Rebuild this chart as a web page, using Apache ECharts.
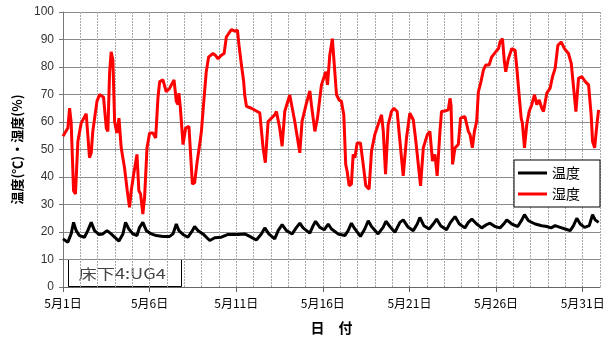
<!DOCTYPE html>
<html>
<head>
<meta charset="utf-8">
<script src="https://cdn.jsdelivr.net/npm/echarts@6/dist/echarts.min.js"></script>
<style>
html,body{margin:0;padding:0;background:#fff;}
#chart{width:613px;height:340px;}
</style>
</head>
<body>
<div id="chart"></div>
<script>
// x values: day of May (1.0 = 5月1日 00:00)
const xTickLabels = ['5月1日','5月6日','5月11日','5月16日','5月21日','5月26日','5月31日'];
const seriesNames = ['温度','湿度'];
const panelLabel = '床下4:UG4';

const tempDay = [1.0,1.28,1.47,1.61,1.76,1.95,2.24,2.43,2.63,2.82,3.07,3.30,3.54,3.78,3.98,4.23,4.46,4.61,4.80,5.04,5.27,5.42,5.61,5.81,6.10,6.38,6.77,7.16,7.35,7.54,7.69,7.93,8.21,8.47,8.60,8.79,9.08,9.47,9.76,10.14,10.53,11.10,11.49,11.78,12.16,12.45,12.65,12.88,13.22,13.42,13.65,13.90,14.23,14.48,14.67,14.86,15.25,15.44,15.58,15.83,16.08,16.31,16.50,16.59,16.88,17.27,17.46,17.65,17.85,18.17,18.42,18.62,18.81,19.19,19.48,19.64,19.87,20.16,20.45,20.64,20.93,21.22,21.45,21.60,21.83,22.14,22.37,22.57,22.80,23.14,23.37,23.63,23.88,24.20,24.40,24.60,24.88,25.17,25.46,25.65,25.94,26.23,26.48,26.62,26.91,27.25,27.49,27.64,27.87,28.26,28.64,28.93,29.18,29.41,29.70,29.99,30.28,30.47,30.66,30.86,31.11,31.38,31.57,31.72,31.92];
const tempVal = [17.5,16.3,19.3,23.5,20.5,18.7,18.1,20.5,23.5,20.5,19.1,19.3,20.5,19.3,18.1,16.7,19.3,23.5,21.1,19.3,18.7,21.7,23.5,20.5,19.3,18.7,18.4,18.4,19.3,22.9,20.5,19.1,18.1,20.5,22.0,20.5,19.3,16.9,17.9,18.1,19.1,19.1,19.3,18.4,17.1,19.3,21.5,19.3,17.5,20.5,22.7,20.5,19.3,21.7,23.2,21.5,19.6,22.3,23.9,21.7,20.8,22.9,21.1,20.5,19.3,18.7,20.5,23.2,21.1,18.4,21.1,24.1,22.0,19.3,21.7,23.9,22.0,19.9,23.5,24.4,21.7,20.5,22.9,25.3,22.3,21.1,22.9,24.7,22.3,20.8,23.5,25.6,22.9,21.5,23.5,24.7,22.9,21.5,22.7,23.2,22.0,21.5,23.2,24.4,22.9,22.0,24.4,26.3,24.1,22.9,22.3,22.0,21.5,22.3,21.7,21.1,20.5,22.3,25.0,22.9,21.7,22.3,26.3,24.4,23.5];

const humDay = [1.0,1.28,1.38,1.47,1.61,1.72,1.86,2.05,2.34,2.53,2.63,2.72,2.96,3.11,3.34,3.50,3.59,3.69,3.78,3.88,3.98,4.11,4.23,4.36,4.55,4.71,4.84,4.94,5.08,5.27,5.38,5.48,5.61,5.71,5.85,6.00,6.19,6.35,6.48,6.58,6.77,6.96,7.16,7.41,7.54,7.64,7.69,7.77,7.93,8.08,8.27,8.47,8.60,8.75,8.89,8.99,9.08,9.27,9.41,9.66,9.79,9.95,10.14,10.30,10.43,10.72,10.95,11.07,11.16,11.30,11.43,11.49,11.59,11.88,12.16,12.36,12.55,12.68,12.84,13.22,13.32,13.51,13.65,13.80,14.09,14.19,14.38,14.67,14.80,15.05,15.25,15.34,15.54,15.69,15.92,16.17,16.27,16.40,16.55,16.60,16.69,16.79,16.94,17.07,17.21,17.32,17.40,17.52,17.65,17.75,17.85,17.98,18.17,18.33,18.48,18.67,18.81,19.00,19.19,19.39,19.49,19.62,19.77,19.96,20.10,20.29,20.45,20.64,20.83,21.02,21.22,21.37,21.51,21.64,21.80,22.03,22.18,22.33,22.47,22.60,22.76,22.85,23.05,23.24,23.34,23.40,23.49,23.63,23.82,23.95,24.20,24.30,24.40,24.50,24.63,24.75,24.88,24.98,25.13,25.27,25.40,25.60,25.75,25.98,26.14,26.23,26.37,26.48,26.56,26.71,26.91,27.10,27.20,27.33,27.45,27.52,27.64,27.77,27.91,28.06,28.22,28.35,28.49,28.64,28.74,28.93,29.12,29.26,29.41,29.57,29.76,29.95,30.18,30.34,30.47,30.61,30.68,30.76,30.95,31.15,31.34,31.49,31.57,31.69,31.82,31.92];
const humVal = [54.8,57.8,65.0,60.0,35.0,33.8,53.0,59.6,63.0,47.0,48.8,56.6,67.5,70.0,69.0,57.8,56.6,78.0,85.5,82.5,60.0,56.0,61.4,50.6,43.4,35.0,29.0,35.0,41.0,48.2,35.0,33.8,26.5,32.6,50.6,56.0,56.0,54.2,68.7,74.7,75.3,71.0,72.3,75.3,67.5,66.3,70.5,65.6,51.8,57.8,58.4,37.4,38.0,45.8,51.8,56.6,63.8,78.3,83.7,84.9,84.3,83.0,84.3,84.9,90.9,93.6,93.0,93.4,87.9,80.7,74.7,69.8,65.7,65.0,64.0,63.3,50.6,45.2,60.2,62.6,63.8,57.8,51.2,63.8,69.8,69.2,60.2,48.8,60.2,66.8,71.3,66.3,56.6,61.4,73.5,78.3,73.5,84.3,90.3,90.9,78.3,69.9,68.0,67.5,62.6,44.6,42.2,36.8,37.4,48.2,47.0,52.4,52.4,44.6,36.8,35.6,49.4,55.4,59.0,62.6,56.6,41.0,59.0,63.8,65.0,63.8,53.0,40.4,54.2,63.2,60.8,53.0,44.6,36.8,50.6,55.4,56.6,45.8,48.2,40.4,56.6,63.8,64.0,64.4,68.6,66.3,44.6,50.6,51.8,61.4,62.0,61.4,56.6,55.4,50.6,56.6,60.2,71.0,74.7,78.9,80.7,80.7,83.7,85.5,86.7,89.1,90.3,81.9,78.3,83.0,86.7,86.1,79.5,69.9,61.4,59.6,50.6,59.0,63.8,66.3,69.9,66.3,68.0,65.0,63.8,70.5,72.3,76.5,79.5,87.9,89.1,86.7,84.9,81.3,72.9,63.8,63.2,75.9,76.5,74.7,73.5,62.6,53.0,50.6,59.0,64.4];

const toPairs = (days, vals) => days.map((d, i) => [d - 1, vals[i]]);

const chart = echarts.init(document.getElementById('chart'), null, {renderer: 'canvas'});
const cjk = "'Noto Sans CJK JP', sans-serif";
const option = {
  animation: false,
  backgroundColor: '#fff',
  grid: {left: 63, right: 13, top: 12, bottom: 52},
  xAxis: [
    {
      type: 'value', min: 0, max: 31, interval: 1, position: 'bottom',
      axisLine: {show: false},
      axisTick: {show: false},
      axisLabel: {show: false},
      splitLine: {show: true, lineStyle: {color: '#a8a8a8', width: 1, type: [2, 1]}}
    },
    {
      type: 'value', min: 0, max: 31, interval: 5, position: 'bottom',
      axisLine: {show: true, onZero: false, lineStyle: {color: '#666', width: 1}},
      axisTick: {show: true, length: 5, lineStyle: {color: '#666'}},
      splitLine: {show: false},
      axisLabel: {
        margin: 10, fontSize: 12, color: '#000', fontFamily: cjk,
        formatter: v => xTickLabels[Math.round(v / 5)] || ''
      },
      name: '日　付', nameLocation: 'middle', nameGap: 34,
      nameTextStyle: {fontSize: 14, fontWeight: 'bold', color: '#000', fontFamily: cjk}
    }
  ],
  yAxis: {
    type: 'value', min: 0, max: 100, interval: 10,
    axisLine: {show: true, lineStyle: {color: '#777'}},
    axisTick: {show: true, length: 4, lineStyle: {color: '#777'}},
    axisLabel: {margin: 9, fontSize: 12, color: '#333', fontFamily: "'Liberation Sans', sans-serif"},
    splitLine: {show: true, lineStyle: {color: '#8a8a8a', width: 1}},
    name: '温度(℃)・湿度(%)', nameLocation: 'middle', nameRotate: 90, nameGap: 39,
    nameTextStyle: {fontSize: 13, fontWeight: 'bold', color: '#000', fontFamily: cjk}
  },
  legend: {
    data: seriesNames, orient: 'vertical', left: 514, top: 160,
    icon: 'rect', itemWidth: 29, itemHeight: 3, itemGap: 5,
    padding: [5, 20, 5, 4],
    backgroundColor: '#fff', borderColor: '#000', borderWidth: 1, borderRadius: 0,
    textStyle: {fontSize: 14, color: '#000', fontFamily: cjk, lineHeight: 16}
  },
  graphic: [{
    type: 'group', left: 68, top: 259,
    children: [
      {type: 'rect', shape: {x: 0, y: 0, width: 113, height: 27}, style: {fill: '#fff', stroke: '#000', lineWidth: 1}},
      {type: 'text', x: 10, y: 14, scaleX: 1.3, style: {text: panelLabel, fontSize: 14, fill: '#444', fontFamily: cjk, verticalAlign: 'middle'}}
    ]
  }],
  series: [
    {
      name: seriesNames[0], type: 'line', xAxisIndex: 0, showSymbol: false,
      data: toPairs(tempDay, tempVal), color: '#000',
      lineStyle: {color: '#000', width: 3}
    },
    {
      name: seriesNames[1], type: 'line', xAxisIndex: 0, showSymbol: false,
      data: toPairs(humDay, humVal), color: '#ff0000',
      lineStyle: {color: '#ff0000', width: 3}
    }
  ]
};
chart.setOption(option);
</script>
</body>
</html>
